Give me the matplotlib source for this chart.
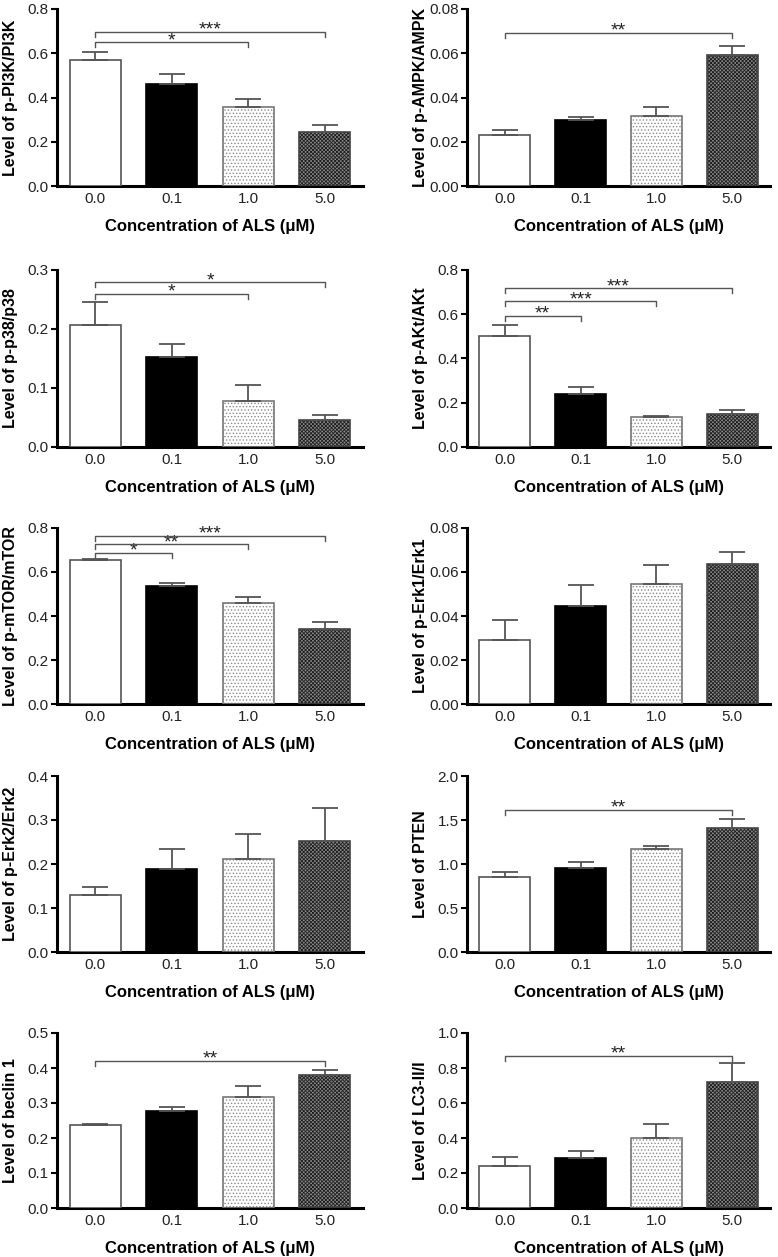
import numpy as np
import matplotlib
matplotlib.use('Agg')
import matplotlib.pyplot as plt
from matplotlib.ticker import FormatStrFormatter

plt.rcParams['font.family'] = ['Liberation Sans', 'DejaVu Sans']
plt.rcParams['hatch.linewidth'] = 0.6

# data (mean, upper error)
conc_labels = ['0.0', '0.1', '1.0', '5.0']

pi3k_mean = [0.571, 0.462, 0.359, 0.242]
pi3k_err = [0.033, 0.044, 0.036, 0.033]
pi3k_sig = [(0, 3, 0.696, '***'), (0, 2, 0.649, '*')]

ampk_mean = [0.0230, 0.0298, 0.0315, 0.0593]
ampk_err = [0.0021, 0.0013, 0.0043, 0.0041]
ampk_sig = [(0, 3, 0.0691, '**')]

p38_mean = [0.206, 0.153, 0.0775, 0.0464]
p38_err = [0.039, 0.022, 0.0275, 0.008]
p38_sig = [(0, 3, 0.279, '*'), (0, 2, 0.260, '*')]

akt_mean = [0.503, 0.239, 0.136, 0.147]
akt_err = [0.047, 0.032, 0.005, 0.020]
akt_sig = [(0, 3, 0.717, '***'), (0, 2, 0.658, '***'), (0, 1, 0.592, '**')]

mtor_mean = [0.653, 0.535, 0.458, 0.341]
mtor_err = [0.008, 0.013, 0.027, 0.030]
mtor_sig = [(0, 3, 0.765, '***'), (0, 2, 0.726, '**'), (0, 1, 0.686, '*')]

erk1_mean = [0.0289, 0.0445, 0.0544, 0.0636]
erk1_err = [0.0091, 0.0094, 0.0086, 0.0055]

erk2_mean = [0.1285, 0.189, 0.2125, 0.253]
erk2_err = [0.019, 0.046, 0.056, 0.074]

pten_mean = [0.847, 0.960, 1.168, 1.405]
pten_err = [0.064, 0.064, 0.037, 0.109]
pten_sig = [(0, 3, 1.616, '**')]

beclin_mean = [0.2367, 0.2765, 0.317, 0.379]
beclin_err = [0.004, 0.011, 0.031, 0.015]
beclin_sig = [(0, 3, 0.420, '**')]

lc3_mean = [0.238, 0.283, 0.402, 0.721]
lc3_err = [0.053, 0.045, 0.077, 0.107]
lc3_sig = [(0, 3, 0.868, '**')]

# (ylabel, mean, err, ymax, ystep, fmt, brackets)
panels = [
    ('Level of p-PI3K/PI3K', pi3k_mean, pi3k_err, 0.8, 0.2, '%.1f', pi3k_sig),
    ('Level of p-AMPK/AMPK', ampk_mean, ampk_err, 0.08, 0.02, '%.2f', ampk_sig),
    ('Level of p-p38/p38', p38_mean, p38_err, 0.3, 0.1, '%.1f', p38_sig),
    ('Level of p-AKt/AKt', akt_mean, akt_err, 0.8, 0.2, '%.1f', akt_sig),
    ('Level of p-mTOR/mTOR', mtor_mean, mtor_err, 0.8, 0.2, '%.1f', mtor_sig),
    ('Level of p-Erk1/Erk1', erk1_mean, erk1_err, 0.08, 0.02, '%.2f', []),
    ('Level of p-Erk2/Erk2', erk2_mean, erk2_err, 0.4, 0.1, '%.1f', []),
    ('Level of PTEN', pten_mean, pten_err, 2.0, 0.5, '%.1f', pten_sig),
    ('Level of beclin 1', beclin_mean, beclin_err, 0.5, 0.1, '%.1f', beclin_sig),
    ('Level of LC3-II/I', lc3_mean, lc3_err, 1.0, 0.2, '%.1f', lc3_sig),
]

W, H = 778, 1257
rows = [(9, 186), (270, 447), (528, 704), (776, 952), (1033, 1208)]
cols = [(57, 363), (467, 770)]

face = ['white', 'black', 'white', '#8a8a8a']
hatch = [None, None, '.....', 'xxxxxxxxx']
hatchcol = ['none', 'none', '#8a8a8a', '#1e1e1e']
edge = ['#555555', 'black', '#777777', '#444444']

fig = plt.figure(figsize=(W / 100, H / 100), dpi=100)

for i, (ylab, mean, err, ymax, ystep, fmt, sig) in enumerate(panels):
    top, bot = rows[i // 2]
    left, right = cols[i % 2]
    ax = fig.add_axes([left / W, 1 - bot / H, (right - left) / W, (bot - top) / H])
    x = np.arange(len(mean))
    w = 0.67
    for j in range(len(mean)):
        if hatch[j]:
            ax.bar(x[j], mean[j], w, color=face[j], edgecolor=hatchcol[j],
                   hatch=hatch[j], linewidth=0, zorder=2)
            ax.bar(x[j], mean[j], w, color='none', edgecolor=edge[j],
                   linewidth=1.2, zorder=3)
        else:
            ax.bar(x[j], mean[j], w, color=face[j], edgecolor=edge[j],
                   linewidth=1.2, zorder=3)
    ax.errorbar(x, mean, yerr=[np.zeros(len(err)), err], fmt='none',
                ecolor='#555555', elinewidth=1.3, capsize=9.5, capthick=1.3,
                zorder=4)

    tick = 0.028 * ymax
    for a, b, yb, lab in sig:
        ax.plot([a, a, b, b], [yb - tick, yb, yb, yb - tick], color='#555555',
                lw=1.0, zorder=4, clip_on=False)
        ax.annotate(lab, xy=((a + b) / 2, yb), xytext=(0, -2),
                    textcoords='offset points', ha='center', va='baseline',
                    fontsize=14, color='#222222')

    ax.set_xlim(-0.5, 3.5)
    ax.set_ylim(0, ymax)
    ax.set_yticks(np.arange(0, ymax + ystep / 2, ystep))
    ax.yaxis.set_major_formatter(FormatStrFormatter(fmt))
    ax.set_xticks(x)
    ax.set_xticklabels(conc_labels)
    ax.tick_params(axis='x', length=0, pad=4, labelsize=11, labelcolor='#222222')
    ax.tick_params(axis='y', direction='out', length=4.5, width=1.5, pad=1.5,
                   labelsize=11, labelcolor='#222222')
    for s in ['top', 'right']:
        ax.spines[s].set_visible(False)
    for s in ['left', 'bottom']:
        ax.spines[s].set_linewidth(2.2)
    ax.set_ylabel(ylab, fontsize=11.5, fontweight='bold')
    ax.yaxis.set_label_coords(-0.128, 0.5)
    ax.set_xlabel('Concentration of ALS (\u03bcM)', fontsize=12,
                  fontweight='bold', labelpad=10)

fig.savefig('out.png', dpi=100)
